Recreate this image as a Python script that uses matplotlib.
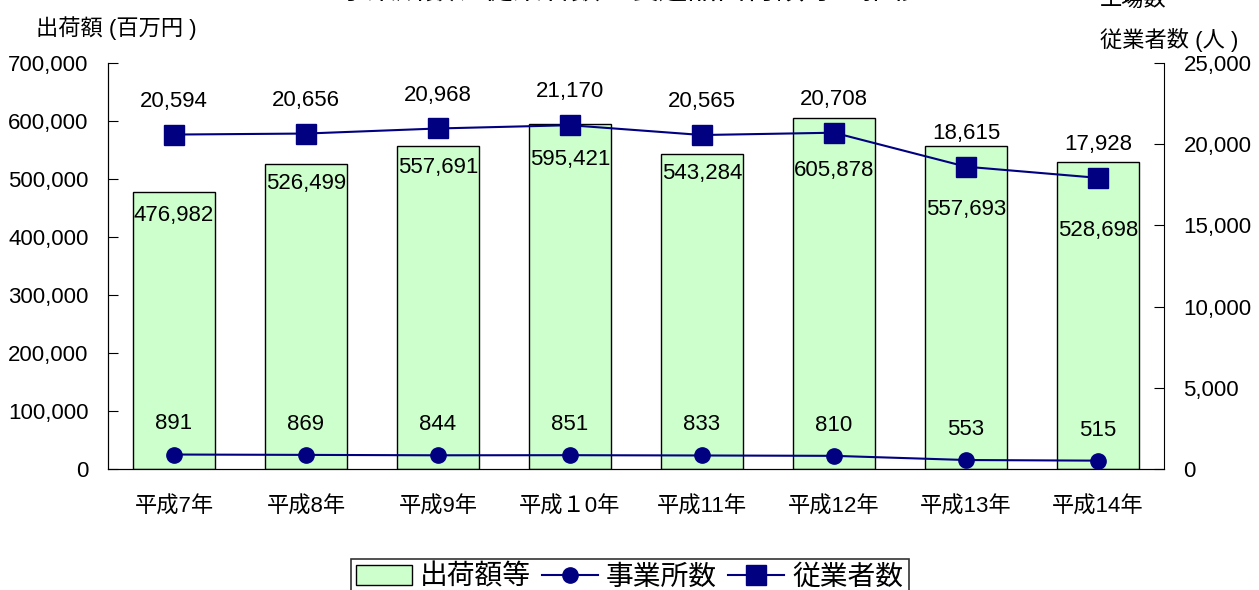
import matplotlib.pyplot as plt
import numpy as np

plt.rcParams['font.family'] = ['Liberation Sans', 'Noto Sans CJK JP']

years = ["平成7年", "平成8年", "平成9年", "平成１0年", "平成11年", "平成12年", "平成13年", "平成14年"]
shipments = [476982, 526499, 557691, 595421, 543284, 605878, 557693, 528698]
establishments = [891, 869, 844, 851, 833, 810, 553, 515]
employees = [20594, 20656, 20968, 21170, 20565, 20708, 18615, 17928]

navy = "#000080"
green = "#CCFFCC"

# label offsets (points) below the bar tops
ship_off = [-17, -14, -16, -26, -14, -38, -46, -49]

fig = plt.figure(figsize=(12.59, 5.9), dpi=100)
ax = fig.add_axes([108 / 1259, 1 - 469 / 590, (1164 - 108) / 1259, (469 - 63) / 590])
ax2 = ax.twinx()

x = np.arange(len(years))
bars = ax.bar(x, shipments, width=0.62, color=green, edgecolor="black", linewidth=1,
              label="出荷額等", zorder=1)
ax.set_xlim(-0.5, len(years) - 0.5)
ax.set_ylim(0, 700000)
ax.set_yticks(np.arange(0, 700001, 100000))
ax.set_yticklabels([f"{v:,}" for v in range(0, 700001, 100000)])
ax.set_xticks(x)
ax.set_xticklabels(years)

for xi, v, off in zip(x, shipments, ship_off):
    ax.annotate(f"{v:,}", (xi, v), xytext=(0, off), textcoords="offset points",
                ha="center", va="center", fontsize=16)

l1, = ax2.plot(x, establishments, color=navy, lw=1.5, marker="o", markersize=11,
               label="事業所数")
l2, = ax2.plot(x, employees, color=navy, lw=1.5, marker="s", markersize=15,
               label="従業者数")
ax2.set_ylim(0, 25000)
ax2.set_yticks(np.arange(0, 25001, 5000))
ax2.set_yticklabels([f"{v:,}" for v in range(0, 25001, 5000)])

for xi, v in zip(x, establishments):
    ax2.annotate(f"{v:,}", (xi, v), xytext=(0, 22), textcoords="offset points",
                 ha="center", va="center", fontsize=16)
for xi, v in zip(x, employees):
    ax2.annotate(f"{v:,}", (xi, v), xytext=(0, 24), textcoords="offset points",
                 ha="center", va="center", fontsize=16)

for a in (ax, ax2):
    a.spines["top"].set_visible(False)
    a.tick_params(axis="y", direction="in", length=7, labelsize=16, pad=14)
ax.spines["right"].set_visible(False)
ax.tick_params(axis="x", length=0, labelsize=16, pad=20)

fig.text(0.5, 1 + 9 / 590, "事業所数、従業者数と製造品出荷額等の推移", ha="center", va="center",
         fontsize=21)
fig.text(36 / 1259, 1 - 28 / 590, "出荷額 (百万円 )", ha="left", va="center", fontsize=16)
fig.text(1100 / 1259, 1 - 0 / 590, "工場数", ha="left", va="center", fontsize=16)
fig.text(1100 / 1259, 1 - 40 / 590, "従業者数 (人 )", ha="left", va="center", fontsize=16)

leg = fig.legend(handles=[bars, l1, l2], loc="upper center", bbox_to_anchor=(0.5, 1 - 545 / 590),
                 ncol=3, fontsize=20, frameon=True, fancybox=False, edgecolor="black",
                 handlelength=2.0, handletextpad=0.3, columnspacing=0.4, borderpad=0.2)
leg.get_frame().set_linewidth(1.2)

plt.savefig("out.png", dpi=100)
plt.close()
